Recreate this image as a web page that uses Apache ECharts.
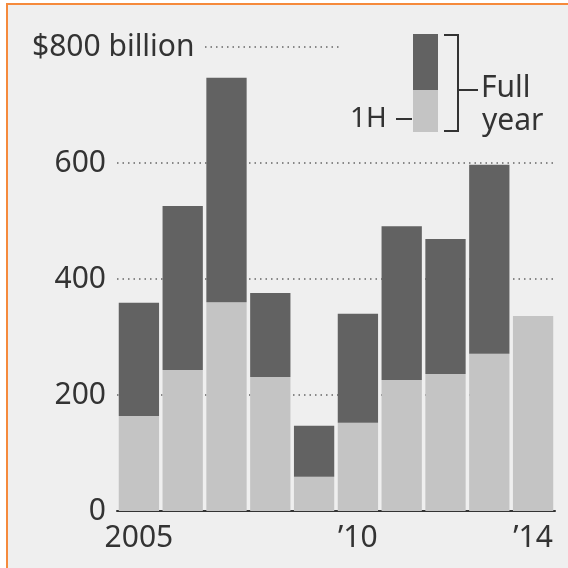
<!DOCTYPE html>
<html>
<head>
<meta charset="utf-8">
<script src="https://cdn.jsdelivr.net/npm/echarts@6/dist/echarts.min.js"></script>
<style>
  html, body { margin: 0; padding: 0; background: #fff; }
  #main { width: 568px; height: 568px; }
</style>
</head>
<body>
<div id="main"></div>
<script>
// years, first-half and full-year totals ($ billion)
var years = ['2005', '2006', '2007', '2008', '2009', '2010', '2011', '2012', '2013', '2014'];
var yearLabels = ['2005', '', '', '', '', '\u201910', '', '', '', '\u201914'];
var firstHalf = [164, 243, 360, 231, 59, 152, 226, 236, 271, 336];
var fullYear = [359, 526, 747, 376, 147, 340, 491, 469, 597, null];
var yTicks = [0, 200, 400, 600, 800];

// second half = full year - first half
var secondHalf = fullYear.map(function (v, i) {
    return v == null ? null : v - firstHalf[i];
});

var FONT = '"Noto Sans", "Open Sans", sans-serif';
var FS = 30;
var DARK = '#626262';
var LIGHT = '#c4c4c4';
var BG = '#efefef';

var mychart = echarts.init(document.getElementById('main'));

var option = {
    backgroundColor: '#fff',
    animation: false,
    grid: {
        left: 117,
        right: 13,
        top: 47,
        bottom: 57
    },
    xAxis: {
        type: 'category',
        data: years,
        axisLine: { lineStyle: { color: '#333', width: 2 } },
        axisTick: {
            alignWithLabel: true,
            length: 7,
            lineStyle: { color: '#333', width: 2 }
        },
        axisLabel: {
            interval: 0,
            margin: 12,
            color: '#333',
            fontFamily: FONT,
            fontSize: FS,
            formatter: function (v, i) { return yearLabels[i]; }
        }
    },
    yAxis: {
        type: 'value',
        min: yTicks[0],
        max: yTicks[yTicks.length - 1],
        interval: 200,
        axisLine: { show: false },
        axisTick: { show: false },
        splitLine: {
            lineStyle: { color: '#666', width: 1.5, type: [1.5, 4] }
        },
        axisLabel: {
            align: 'left',
            margin: 85,
            color: '#333',
            fontFamily: FONT,
            fontSize: FS,
            formatter: function (v) {
                if (v === 800) return '{b|$' + v + ' billion}';
                return '{n|' + v + '}';
            },
            rich: {
                n: { width: 74, align: 'right', fontSize: FS, fontFamily: FONT, color: '#333' },
                b: { fontSize: FS, fontFamily: FONT, color: '#333', backgroundColor: BG, padding: [2, 10, 2, 0] }
            }
        }
    },
    graphic: [
        // panel background + orange frame
        { type: 'rect', z: -10, shape: { x: 7, y: 4, width: 561, height: 564 }, style: { fill: BG } },
        { type: 'rect', z: 10, shape: { x: 6, y: 3, width: 563, height: 2 }, style: { fill: '#f58a3c' } },
        { type: 'rect', z: 10, shape: { x: 6, y: 3, width: 2, height: 565 }, style: { fill: '#f58a3c' } },
        // legend area background (interrupts the 800 gridline)
        { type: 'rect', z: 10, shape: { x: 340, y: 30, width: 225, height: 110 }, style: { fill: BG } },
        // legend swatch
        { type: 'rect', z: 11, shape: { x: 413, y: 34, width: 25, height: 56 }, style: { fill: DARK } },
        { type: 'rect', z: 11, shape: { x: 413, y: 90, width: 25, height: 42 }, style: { fill: LIGHT } },
        // bracket
        { type: 'polyline', z: 11, shape: { points: [[444, 35], [458, 35], [458, 131], [444, 131]] },
          style: { stroke: '#333', lineWidth: 2, fill: null } },
        { type: 'line', z: 11, shape: { x1: 458, y1: 90, x2: 478, y2: 90 }, style: { stroke: '#333', lineWidth: 2 } },
        { type: 'line', z: 11, shape: { x1: 396, y1: 119, x2: 412, y2: 119 }, style: { stroke: '#333', lineWidth: 2 } },
        { type: 'text', z: 11, x: 350, y: 119,
          style: { text: '1H', fontFamily: FONT, fontSize: 28, fill: '#333', verticalAlign: 'middle' } },
        { type: 'text', z: 11, x: 481, y: 88,
          style: { text: 'Full', fontFamily: FONT, fontSize: FS, fill: '#333', verticalAlign: 'middle' } },
        { type: 'text', z: 11, x: 482, y: 121,
          style: { text: 'year', fontFamily: FONT, fontSize: FS, fill: '#333', verticalAlign: 'middle' } }
    ],
    series: [
        {
            name: '1H',
            type: 'bar',
            stack: 'total',
            barCategoryGap: '8%',
            data: firstHalf,
            itemStyle: { color: LIGHT }
        },
        {
            name: '2H',
            type: 'bar',
            stack: 'total',
            barCategoryGap: '8%',
            data: secondHalf,
            itemStyle: { color: DARK }
        }
    ]
};
mychart.setOption(option);
</script>
</body>
</html>
